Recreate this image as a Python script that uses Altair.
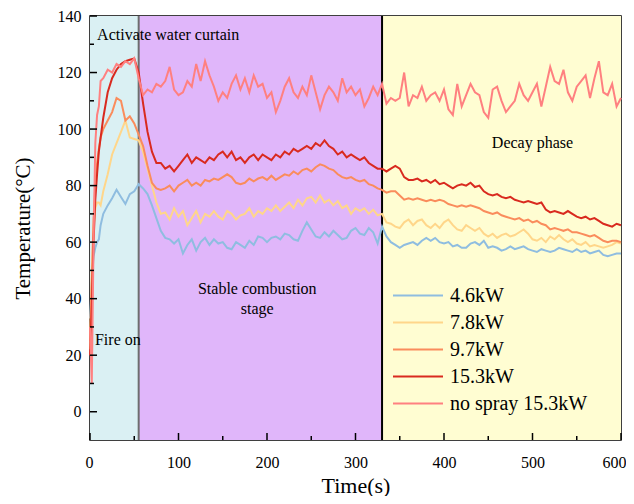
import altair as alt
import pandas as pd

# time stamps (s)
T = [0, 2, 4, 6, 8, 10, 12] + list(range(15, 605, 5))

B46 = [33, 45, 55, 58, 60, 61, 66,
       70, 73, 75.5, 78.5, 76, 73.5, 77, 78, 80.5, 79,
       77, 73, 68.5, 64, 61.5, 61, 59.5, 61, 56, 59,
       61, 57, 60, 61.5, 59, 61, 59.5, 60, 58, 57.5,
       60, 59, 58, 60.5, 59, 62, 61.5, 60, 61.5, 62,
       61, 63, 62.5, 61, 60.5, 64, 67, 64.5, 62, 61.5,
       63.5, 62, 64, 62.5, 61, 61.5, 64, 65, 63, 62.5,
       65, 63.5, 59.5, 65.5, 62, 60, 59, 58, 59, 59.5,
       60, 59, 60.5, 61.5, 60.5, 61.5, 60, 59.5, 60, 58.5,
       59, 58, 58, 59.5, 60, 59, 60.5, 58, 58.5, 58,
       57, 57.5, 58.5, 57.5, 58, 58.5, 57.5, 57, 56.5, 57.5,
       57, 56.5, 57, 58, 57.5, 57, 56.5, 57.5, 56.5, 57,
       56, 56.5, 57, 55.5, 55, 55.5, 56, 56]

Y78 = [22, 50, 65, 72, 74, 74, 73,
       78, 84, 91, 95, 99, 103, 97, 96.5, 96, 92,
       86, 80, 74, 70, 70.5, 68, 72, 69, 71, 66,
       68.5, 71, 67, 70, 69, 71, 69, 68, 71, 70,
       68, 69.5, 70, 72, 69, 71, 70, 72, 71, 73,
       71, 72.5, 74, 72, 75, 73, 75.5, 76, 74, 76.5,
       74, 75, 73, 74.5, 72, 73, 70, 72, 71, 72,
       70, 71.5, 69.5, 70, 67, 66.5, 65.5, 65, 67, 68,
       66, 67.5, 68, 66, 65, 66.5, 65, 67, 68, 66,
       64.5, 64, 66, 65, 64, 65, 63, 62, 63, 61.5,
       62.5, 63, 62, 62.5, 63.5, 64.5, 63, 61, 60.5, 61.5,
       60, 62, 61, 62.5, 61, 60, 61, 59.5, 59, 60,
       58.5, 59, 58.5, 58, 58.5, 59, 60, 59.5]

O97 = [25, 45, 68, 80, 88, 93, 97,
       100, 103, 106, 111, 110, 103, 104.5, 102, 98, 94,
       87, 81, 79, 78.5, 79, 80, 78, 80, 81, 82,
       80, 81, 80, 82, 81.5, 82.5, 82, 83, 84, 83,
       81, 80.5, 81, 82.5, 81.5, 82.5, 83, 82, 83.5, 82,
       83, 84, 83.5, 85, 84, 85.5, 86, 85, 86.5, 87.5,
       87, 86, 85.5, 84, 83, 82.5, 83, 82, 81.5, 82,
       80.5, 80, 79, 78.5, 77.5, 78, 78, 76.5, 75, 75.5,
       75, 75.5, 75, 74.5, 75, 74.5, 75, 74.5, 73.5, 73,
       72.5, 73, 72.5, 73, 72.5, 72, 71, 70.5, 70, 70.5,
       69.5, 69, 68.5, 68, 68.5, 67.5, 68, 67, 67.5, 66.5,
       66, 64.5, 65, 64.5, 64, 64.5, 63.5, 63.5, 63, 62.5,
       62, 62.5, 61.5, 60.5, 60, 60.5, 60.5, 60]

R153 = [20, 37, 60, 75, 84, 92, 97,
        104, 113, 118, 121, 123, 124, 124.5, 125, 120, 109,
        99, 92, 88, 88, 86, 87, 85, 87, 89, 91,
        88, 90, 89, 88, 90, 89, 91, 92, 90, 92,
        89, 90, 88, 90, 91, 89, 91, 90, 89, 91,
        90, 92, 91, 93, 92, 93, 94, 93, 95, 94,
        96, 94, 93, 91, 92, 90, 91, 90, 89, 90,
        88, 87, 86, 86, 85, 86, 87, 86, 83, 82,
        82, 82.5, 81.5, 82, 81, 82, 80.5, 81, 80, 79,
        80, 80.5, 80, 81, 79.5, 80, 78, 77, 76.5, 77,
        76, 75.5, 76, 75, 74.5, 74, 74.5, 74, 73.5, 74,
        71.5, 70.5, 71, 70.5, 70, 71, 70, 69, 68.5, 69,
        68, 68.5, 67.5, 66.5, 66, 65.5, 66.5, 66]

NS = [30, 10, 60, 95, 105, 108, 117,
      118, 121, 120, 123, 122, 124, 123, 125, 118, 112,
      114, 113, 116, 115, 117, 122, 114, 112, 113, 117,
      115, 123, 117, 124, 119, 115, 110, 113, 111, 116,
      119, 114, 118, 113, 119, 115, 116, 111, 113, 106,
      110, 115, 118, 113, 111, 115, 112, 119, 113, 107,
      112, 115, 113, 110, 118, 113, 115, 112, 114, 108,
      111, 115, 112, 116, 109, 111, 110, 111, 120, 108,
      112, 111, 115, 110, 112, 113, 110, 114, 107, 105,
      116, 108, 112, 116, 113, 112, 106, 104, 114, 115,
      110, 106, 108, 110, 116, 112, 110, 113, 116, 108,
      115, 122, 117, 116, 121, 113, 110, 115, 117, 119,
      111, 118, 124, 113, 112, 116, 108, 111]

names = ["4.6kW", "7.8kW", "9.7kW", "15.3kW", "no spray 15.3kW"]
colors = ["#8FBDE0", "#FFD68A", "#FA8C5C", "#D92A1F", "#FF8080"]

# phase regions
reg_start = [0, 55, 330]
reg_end = [55, 330, 600]
reg_color = ["#DAF0F3", "#E0B6FA", "#FFFDD2"]

# tick values
x_major = [0, 100, 200, 300, 400, 500, 600]
x_minor = [50, 150, 250, 350, 450, 550]
y_major = [0, 20, 40, 60, 80, 100, 120, 140]
y_minor = [10, 30, 50, 70, 90, 110, 130]

rows = []
for n, vals in zip(names, [B46, Y78, O97, R153, NS]):
    assert len(vals) == len(T), (n, len(vals))
    for t, v in zip(T, vals):
        rows.append({"t": t, "v": v, "series": n})
df = pd.DataFrame(rows)

W, H = 531, 424
FONT = "Liberation Serif"
xs = alt.Scale(domain=[0, 600], nice=False)
ys = alt.Scale(domain=[-10, 140], nice=False)

regions = pd.DataFrame({"a": reg_start, "b": reg_end, "c": reg_color,
                        "y0": [-10] * 3, "y1": [140] * 3})
bg = alt.Chart(regions).mark_rect().encode(
    x=alt.X("a:Q", scale=xs, title="Time(s)",
            axis=alt.Axis(values=x_major, format="d", labelFlush=True,
                          labelFlushOffset=5)),
    x2="b:Q",
    y=alt.Y("y0:Q", scale=ys, title="Temperature(°C)",
            axis=alt.Axis(values=y_major, format="d")),
    y2="y1:Q",
    color=alt.Color("c:N", scale=None),
)

vl = alt.Chart(pd.DataFrame({"x": [55, 330], "c": ["#6E6E6E", "#000000"]})).mark_rule(
    strokeWidth=2).encode(
    x=alt.X("x:Q", scale=xs), color=alt.Color("c:N", scale=None))

lines = alt.Chart(df).mark_line(strokeWidth=2).encode(
    x=alt.X("t:Q", scale=xs),
    y=alt.Y("v:Q", scale=ys),
    color=alt.Color("series:N", sort=names,
                    scale=alt.Scale(domain=names, range=colors),
                    legend=alt.Legend(orient="none", legendX=302, legendY=266,
                                      title=None, symbolType="stroke",
                                      symbolSize=2500, symbolStrokeWidth=2,
                                      labelFont=FONT, labelFontSize=20,
                                      labelColor="black", labelOffset=6,
                                      clipHeight=27, rowPadding=0, padding=0)),
    detail="series:N",
)

xt_major = alt.Chart(pd.DataFrame({"x": x_major})).mark_rule(color="black", strokeWidth=1.5).encode(
    x=alt.X("x:Q", scale=xs), y=alt.value(H), y2=alt.value(H - 7))
xt_minor = alt.Chart(pd.DataFrame({"x": x_minor})).mark_rule(color="black", strokeWidth=1.5).encode(
    x=alt.X("x:Q", scale=xs), y=alt.value(H), y2=alt.value(H - 4))
yt_major = alt.Chart(pd.DataFrame({"y": y_major})).mark_rule(color="black", strokeWidth=1.5).encode(
    y=alt.Y("y:Q", scale=ys), x=alt.value(0), x2=alt.value(7))
yt_minor = alt.Chart(pd.DataFrame({"y": y_minor})).mark_rule(color="black", strokeWidth=1.5).encode(
    y=alt.Y("y:Q", scale=ys), x=alt.value(0), x2=alt.value(4))

left_txt = pd.DataFrame({"x": [8, 5.6], "y": [133.3, 25.4],
                         "s": ["Activate water curtain", "Fire on"]})
center_txt = pd.DataFrame({"x": [189, 189, 500], "y": [43.4, 36.3, 94.9],
                           "s": ["Stable combustion", "stage", "Decay phase"]})
t1 = alt.Chart(left_txt).mark_text(align="left", baseline="middle", font=FONT,
                                   fontSize=16, color="black").encode(
    x=alt.X("x:Q", scale=xs), y=alt.Y("y:Q", scale=ys), text="s:N")
t2 = alt.Chart(center_txt).mark_text(align="center", baseline="middle", font=FONT,
                                     fontSize=16, color="black").encode(
    x=alt.X("x:Q", scale=xs), y=alt.Y("y:Q", scale=ys), text="s:N")

chart = alt.layer(bg, vl, lines, xt_major, xt_minor, yt_major, yt_minor, t1, t2).resolve_scale(
    color="independent").properties(
    width=W, height=H,
    autosize=alt.AutoSizeParams(type="none"),
    padding={"left": 82, "top": 8, "right": 5, "bottom": 56},
).configure_view(stroke="black", strokeWidth=1.5).configure_axis(
    grid=False, ticks=False, domain=False,
    labelFont=FONT, labelFontSize=16, labelColor="black",
    titleFont=FONT, titleFontSize=21, titleFontWeight="normal", titleColor="black",
).configure_axisX(labelPadding=14, titlePadding=5, titleFontSize=22).configure_axisY(
    labelPadding=9, titlePadding=24)

chart.save("out.html", embed_options={"renderer": "svg", "actions": False})
